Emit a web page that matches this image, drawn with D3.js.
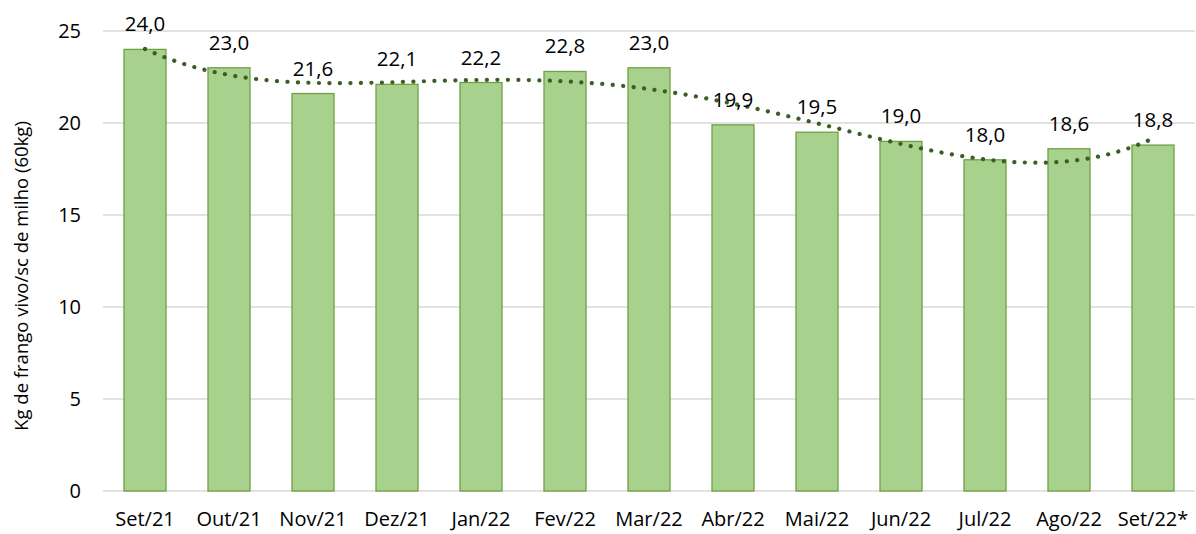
<!DOCTYPE html>
<html>
<head>
<meta charset="utf-8">
<script src="https://cdn.jsdelivr.net/npm/d3@7"></script>
<style>
  body { margin: 0; background: #fff; }
  text { font-family: "Open Sans", sans-serif; fill: #000; }
</style>
</head>
<body>
<div class="canvas"></div>
<script>
const months = ["Set/21", "Out/21", "Nov/21", "Dez/21", "Jan/22", "Fev/22", "Mar/22",
  "Abr/22", "Mai/22", "Jun/22", "Jul/22", "Ago/22", "Set/22*"];
const values = [24.0, 23.0, 21.6, 22.1, 22.2, 22.8, 23.0, 19.9, 19.5, 19.0, 18.0, 18.6, 18.8];
const yTicks = [0, 5, 10, 15, 20, 25];
const yTitle = "Kg de frango vivo/sc de milho (60kg)";
const trendOrder = 4;

const width = 1196, height = 534;
const margin = { top: 31, right: 1, bottom: 43, left: 103 };

const svg = d3.select(".canvas")
  .append("svg")
  .attr("width", width)
  .attr("height", height);

const x = d3.scaleBand()
  .domain(months)
  .range([margin.left, width - margin.right])
  .paddingInner(0.5)
  .paddingOuter(0.25);

const y = d3.scaleLinear()
  .domain([0, 25])
  .range([height - margin.bottom, margin.top]);

// gridlines
svg.append("g")
  .selectAll("line")
  .data(yTicks)
  .enter()
  .append("line")
  .attr("x1", margin.left)
  .attr("x2", width - margin.right)
  .attr("y1", d => y(d))
  .attr("y2", d => y(d))
  .attr("stroke", "#d9d9d9")
  .attr("stroke-width", 1.3);

// y axis labels
const yAxis = svg.append("g")
  .attr("transform", `translate(${margin.left - 22}, 0)`)
  .call(d3.axisLeft(y).tickValues(yTicks).tickSize(0).tickPadding(0));
yAxis.select(".domain").remove();
yAxis.selectAll("text")
  .style("font-family", "Open Sans")
  .attr("font-size", 20)
  .attr("fill", "#000");

// x axis labels
const xAxis = svg.append("g")
  .attr("transform", `translate(0, ${y(0)})`)
  .call(d3.axisBottom(x).tickSize(0).tickPadding(21));
xAxis.select(".domain").remove();
xAxis.selectAll("text")
  .style("font-family", "Open Sans")
  .attr("font-size", 20)
  .attr("fill", "#000");

// bars
svg.append("g")
  .selectAll("rect")
  .data(values)
  .enter()
  .append("rect")
  .attr("x", (d, i) => x(months[i]))
  .attr("y", d => y(d))
  .attr("width", x.bandwidth())
  .attr("height", d => y(0) - y(d))
  .attr("fill", "#a9d18e")
  .attr("stroke", "#6fa046")
  .attr("stroke-width", 1.3);

// polynomial trendline (least squares, like Excel)
function polyFit(xs, ys, order) {
  const n = order + 1;
  const A = [];
  for (let r = 0; r < n; r++) {
    A.push([]);
    for (let c = 0; c < n; c++) A[r].push(d3.sum(xs, v => Math.pow(v, r + c)));
    A[r].push(d3.sum(xs, (v, i) => Math.pow(v, r) * ys[i]));
  }
  for (let c = 0; c < n; c++) {
    let p = c;
    for (let r = c + 1; r < n; r++) if (Math.abs(A[r][c]) > Math.abs(A[p][c])) p = r;
    [A[c], A[p]] = [A[p], A[c]];
    for (let r = 0; r < n; r++) {
      if (r === c) continue;
      const f = A[r][c] / A[c][c];
      for (let k = c; k <= n; k++) A[r][k] -= f * A[c][k];
    }
  }
  return A.map((row, i) => row[n] / row[i]);
}

const xs = values.map((d, i) => i + 1);
const coef = polyFit(xs, values, trendOrder);
const trendAt = t => coef.reduce((s, c, k) => s + c * Math.pow(t, k), 0);
const trendPts = d3.range(1, months.length + 0.001, 0.05);
const xPos = t => x(months[0]) + x.bandwidth() / 2 + (t - 1) * x.step();

svg.append("path")
  .datum(trendPts)
  .attr("fill", "none")
  .attr("stroke", "#3b5e23")
  .attr("stroke-width", 4.2)
  .attr("stroke-linecap", "round")
  .attr("stroke-dasharray", "0.1 10.4")
  .attr("d", d3.line().x(t => xPos(t)).y(t => y(trendAt(t))));

// data labels
svg.append("g")
  .selectAll("text")
  .data(values)
  .enter()
  .append("text")
  .attr("x", (d, i) => x(months[i]) + x.bandwidth() / 2)
  .attr("y", d => y(d) - 18)
  .attr("text-anchor", "middle")
  .attr("font-size", 20.5)
  .text(d => d3.format(".1f")(d).replace(".", ","));

// y title
svg.append("text")
  .attr("transform", `translate(28, 276) rotate(-90)`)
  .attr("text-anchor", "middle")
  .attr("font-size", 18.5)
  .text(yTitle);
</script>
</body>
</html>
